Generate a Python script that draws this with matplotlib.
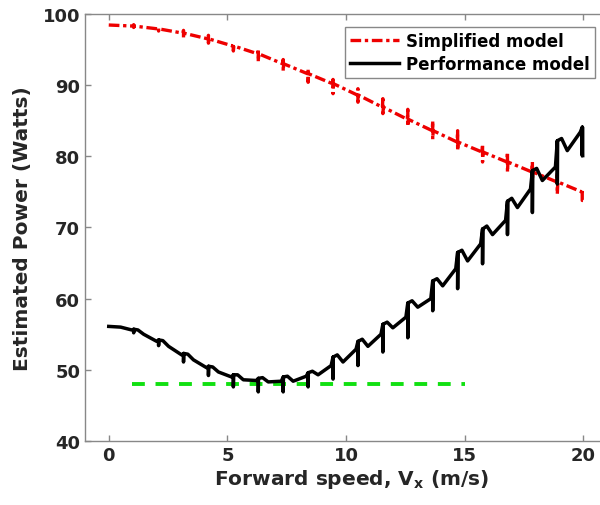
import matplotlib
matplotlib.use("Agg")
import matplotlib.pyplot as plt

# ---- data ----
spike_x = [1.05, 2.1, 3.15, 4.2, 5.25, 6.3, 7.35, 8.4, 9.45, 10.5,
           11.55, 12.6, 13.65, 14.7, 15.75, 16.8, 17.85, 18.9, 19.95]

# Performance model (black)
perf_start_x = [0.0, 0.5]
perf_start_y = [56.1, 56.0]
perf_pre = [55.6, 54.0, 52.1, 50.3, 49.0, 48.5, 48.4, 49.1, 50.6, 52.9,
            55.0, 57.4, 60.0, 64.2, 67.7, 71.0, 75.4, 78.5, 83.4]
perf_top = [55.7, 54.2, 52.3, 50.5, 49.3, 48.8, 49.0, 49.6, 51.8, 54.0,
            56.4, 59.4, 62.5, 66.5, 69.8, 73.7, 78.0, 82.2, 84.1]
perf_hump = [55.6, 54.1, 52.2, 50.4, 49.3, 48.9, 49.1, 49.8, 52.1, 54.3,
             56.7, 59.7, 62.8, 66.8, 70.2, 74.1, 78.3, 82.5]
perf_bot = [55.2, 53.4, 51.1, 49.2, 47.6, 46.9, 46.9, 47.6, 48.7, 50.6,
            52.5, 54.5, 58.3, 61.4, 64.9, 69.0, 72.1, 76.1, 80.1]
perf_dip = [55.0, 53.3, 51.4, 49.7, 48.6, 48.3, 48.4, 49.3, 51.1, 53.3,
            55.9, 58.8, 61.8, 65.3, 69.0, 72.8, 76.6, 80.8]

# Simplified model (red)
simp_start_x = [0.0]
simp_start_y = [98.45]
simp_mid = [98.3, 97.9, 97.3, 96.5, 95.5, 94.4, 93.0, 91.6, 90.2, 88.6,
            86.9, 85.2, 83.6, 82.0, 80.6, 79.2, 77.8, 76.4, 75.0]
simp_top = [98.5, 98.1, 97.7, 97.0, 95.9, 95.1, 93.6, 92.3, 90.8, 89.5,
            88.1, 86.6, 85.0, 83.6, 81.7, 80.6, 79.2, 77.8, 75.4]
simp_bot = [98.1, 97.6, 96.7, 95.9, 94.8, 93.3, 92.0, 90.4, 88.8, 87.6,
            86.0, 84.2, 82.4, 80.8, 79.2, 77.8, 76.6, 74.7, 73.8]

# reference level (green)
ref_x = [1.0, 15.0]
ref_y = [48.0, 48.0]

x_ticks = [0, 5, 10, 15, 20]
y_ticks = [40, 50, 60, 70, 80, 90, 100]

# ---- build polylines from the read values ----
px, py = list(perf_start_x), list(perf_start_y)
for i, xs in enumerate(spike_x):
    px += [xs - 0.08, xs, xs, xs + 0.01]
    py += [perf_pre[i], perf_top[i], perf_bot[i], perf_top[i]]
    if i < len(perf_dip):
        px += [xs + 0.18, xs + 0.42]
        py += [perf_hump[i], perf_dip[i]]
    else:
        px.append(xs + 0.02)
        py.append(perf_bot[i])

sx, sy = list(simp_start_x), list(simp_start_y)
for i, xs in enumerate(spike_x):
    sx += [xs - 0.02, xs, xs, xs + 0.02]
    sy += [simp_mid[i], simp_top[i], simp_bot[i], simp_mid[i]]
sx[-1] = spike_x[-1] + 0.03
sy[-1] = simp_bot[-1]

# ---- figure ----
fig = plt.figure(figsize=(6.0, 5.06), dpi=100)
ax = fig.add_axes([0.1417, 0.1265, 0.89, 0.8439])

ax.plot(ref_x, ref_y, color='#11e011', lw=2.8, linestyle=(0, (3.3, 2.75)),
        zorder=1)
ax.plot(sx, sy, color='#ee0000', lw=2.4, linestyle=(0, (3.2, 1.1, 1.0, 1.1)),
        label='Simplified model', zorder=2)
ax.plot(px, py, color='black', lw=2.5, label='Performance model', zorder=3,
        solid_joinstyle='round')

ax.set_xlim(-1, 21.5)
ax.set_ylim(40, 100)
ax.set_xticks(x_ticks)
ax.set_yticks(y_ticks)

spine_col = '#888888'
for s in ax.spines.values():
    s.set_color(spine_col)
    s.set_linewidth(1.0)
ax.spines['right'].set_visible(False)
ax.tick_params(direction='in', length=4, width=1, color=spine_col,
               top=True, right=False, labelsize=13, labelcolor='#262626')
for lab in ax.get_xticklabels() + ax.get_yticklabels():
    lab.set_fontweight('bold')

ax.set_xlabel(r'Forward speed, V$_\mathbf{x}$ (m/s)', fontsize=14.5,
              fontweight='bold', color='#262626', labelpad=2)
ax.set_ylabel('Estimated Power (Watts)', fontsize=14.5, fontweight='bold',
              color='#262626', labelpad=8)

leg = ax.legend(loc='upper right', bbox_to_anchor=(20.48, 98.17),
                bbox_transform=ax.transData,
                borderaxespad=0, handlelength=2.9,
                handletextpad=0.45, labelspacing=0.3, borderpad=0.3,
                fancybox=False, framealpha=1, edgecolor='#888888',
                prop={'weight': 'bold', 'size': 12})
leg.get_frame().set_linewidth(1.0)

fig.savefig('out.png', dpi=100)
